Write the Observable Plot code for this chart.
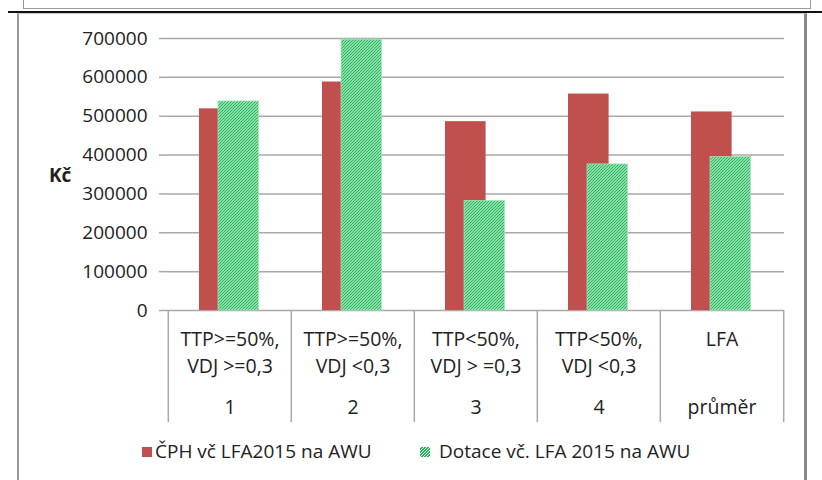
<!DOCTYPE html>
<html>
<head>
<meta charset="utf-8">
<script src="https://cdn.jsdelivr.net/npm/d3@7"></script>
<script src="https://cdn.jsdelivr.net/npm/@observablehq/plot@0.6"></script>
<style>
  html, body { margin: 0; padding: 0; background: #fff; }
  #wrap { position: relative; width: 822px; height: 480px; overflow: hidden; font-family: "Open Sans", Lato, sans-serif; color: #222; }
  #wrap svg { position: absolute; left: 0; top: 0; }
  .deco { position: absolute; box-sizing: border-box; pointer-events: none; }
  .lg { position: absolute; font-size: 19px; line-height: 22px; white-space: nowrap; }
  .sw { position: absolute; width: 10px; height: 10px; }
</style>
</head>
<body>
<div id="wrap"></div>
<script>
// ---- data ----
const groups = ["1", "2", "3", "4", "průměr"];
const line1 = ["TTP>=50%,", "TTP>=50%,", "TTP<50%,", "TTP<50%,", "LFA"];
const line2 = ["VDJ >=0,3", "VDJ <0,3", "VDJ > =0,3", "VDJ <0,3", ""];
const cph = [519000, 588000, 486000, 557000, 511000];      // ČPH vč LFA2015 na AWU
const dotace = [538000, 697000, 282000, 376000, 395000];   // Dotace vč. LFA 2015 na AWU
const yTicks = [0, 100000, 200000, 300000, 400000, 500000, 600000, 700000];
const seriesNames = ["ČPH vč LFA2015 na AWU", "Dotace vč. LFA 2015 na AWU"];
const yLabel = "Kč";

const rows = groups.map((g, i) => ({g, l1: line1[i], l2: line2[i], cph: cph[i], dot: dotace[i]}));

const W = 822, H = 430;
const mL = 167, mR = 38, mT = 38, mB = 120;
const bw = (W - mL - mR) / groups.length;

const red = "#c0504d";
const green = "#1cb956";
const font = "'Open Sans', Lato, sans-serif";

const svg = Plot.plot({
  width: W, height: H,
  marginLeft: mL, marginRight: mR, marginTop: mT, marginBottom: mB,
  style: {fontFamily: font, fontSize: "19px", color: "#222", background: "transparent", overflow: "visible"},
  x: {type: "band", domain: groups, paddingInner: 0, paddingOuter: 0, axis: null},
  y: {domain: [0, 700000], axis: null},
  marks: [
    Plot.gridY(yTicks, {stroke: "#a9a9a9", strokeOpacity: 1, strokeWidth: 1.5}),
    Plot.axisY({ticks: yTicks, tickSize: 8, tickPadding: 12, stroke: "#a9a9a9", strokeWidth: 1.5, fontSize: 19, label: null, tickFormat: d => String(d)}),
    Plot.axisX({ticks: groups, tickSize: 112, tickFormat: () => "", dx: -bw / 2, stroke: "#a9a9a9", strokeWidth: 1.5, label: null}),
    Plot.axisX({ticks: [groups[groups.length - 1]], tickSize: 112, tickFormat: () => "", dx: bw / 2, stroke: "#a9a9a9", strokeWidth: 1.5, label: null}),
    Plot.barY(rows, {x: "g", y: "cph", fill: red, insetLeft: 31, insetRight: bw - 72}),
    Plot.barY(rows, {x: "g", y: "dot", fill: "url(#hatch)", stroke: "#a8e6bd", strokeWidth: 0.7, insetLeft: 50, insetRight: bw - 91}),
    Plot.text(rows, {x: "g", text: "l1", frameAnchor: "bottom", dy: 29, fontSize: 19.5, lineAnchor: "middle", fill: "#222"}),
    Plot.text(rows, {x: "g", text: "l2", frameAnchor: "bottom", dy: 56, fontSize: 19.5, lineAnchor: "middle", fill: "#222"}),
    Plot.text(rows, {x: "g", text: "g", frameAnchor: "bottom", dy: 97, fontSize: 19.5, lineAnchor: "middle", fill: "#222"})
  ]
});

// hatch pattern for second series ("////" stripes)
const defs = d3.select(svg).insert("defs", ":first-child");
const pat = defs.append("pattern").attr("id", "hatch").attr("patternUnits", "userSpaceOnUse")
  .attr("width", 3).attr("height", 3);
pat.append("rect").attr("width", 3).attr("height", 3).attr("fill", "#fff");
pat.append("path").attr("d", "M-1,1L1,-1M0,3L3,0M2,4L4,2")
  .attr("stroke", green).attr("stroke-width", 1.4);

const wrap = document.getElementById("wrap");

// decorative frames (page context around the chart)
wrap.insertAdjacentHTML("beforeend", `
  <div class="deco" style="left:23px;top:-4px;width:788px;height:13px;border:1.5px solid #999;border-top:none;"></div>
  <div class="deco" style="left:8px;top:11px;width:814px;height:2px;background:#111;"></div>
  <div class="deco" style="left:17px;top:13px;width:790px;height:480px;border-left:2px solid #9a9a9a;border-top:1px solid #c8c8c8;border-right:3px solid #8a8a8a;"></div>
`);
wrap.appendChild(svg);

// y label + legend
wrap.insertAdjacentHTML("beforeend", `
  <div class="lg" style="left:49px;top:164px;font-weight:bold;">${yLabel}</div>
  <div class="sw" style="left:142px;top:447px;background:${red};"></div>
  <div class="lg" style="left:155px;top:440px;">${seriesNames[0]}</div>
  <div class="sw" style="left:420px;top:447px;background:repeating-linear-gradient(-45deg, #fff 0 1px, ${green} 1px 2.2px);"></div>
  <div class="lg" style="left:439px;top:440px;">${seriesNames[1]}</div>
`);
</script>
</body>
</html>
